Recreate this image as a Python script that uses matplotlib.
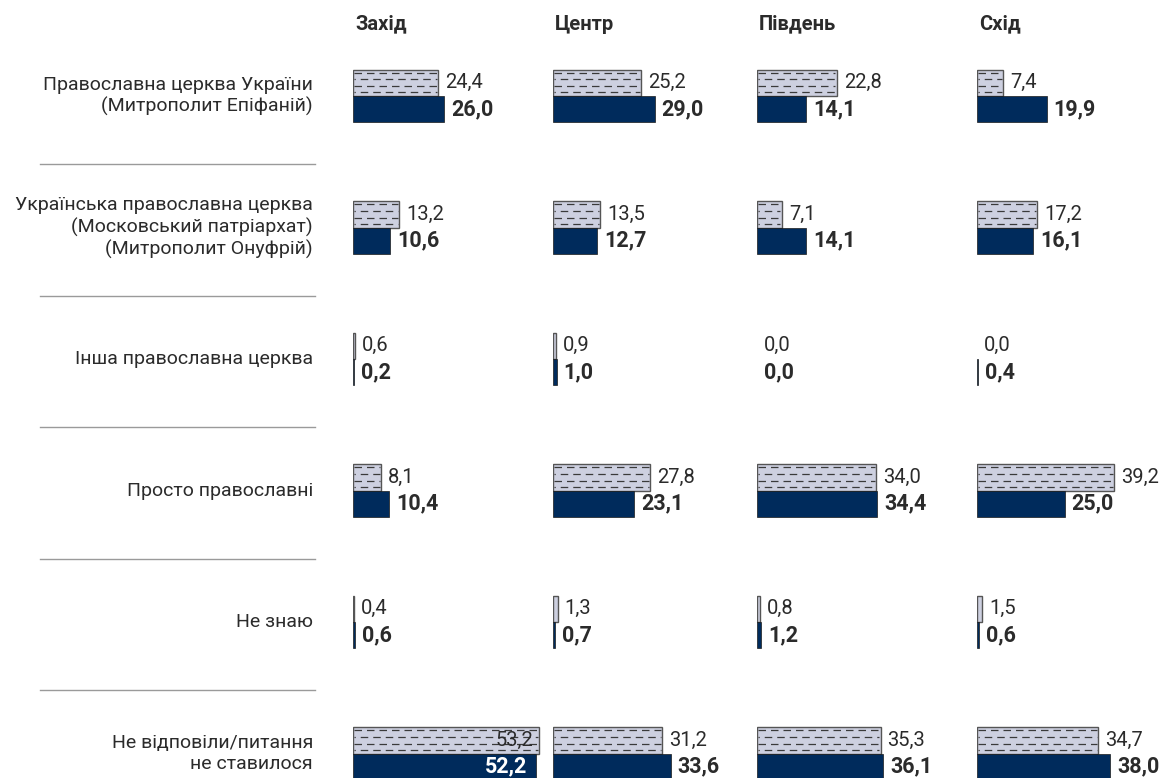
import numpy as np
import matplotlib
matplotlib.use("Agg")
from matplotlib import pyplot as plt

plt.rcParams['font.family'] = ['Roboto', 'DejaVu Sans']

# data
regions = ['Захід', 'Центр', 'Південь', 'Схід']
categories = ['Православна церква України\n(Митрополит Епіфаній)',
              'Українська православна церква\n(Московський патріархат)\n(Митрополит Онуфрій)',
              'Інша православна церква',
              'Просто православні',
              'Не знаю',
              'Не відповіли/питання\nне ставилося']
prev_vals = {
    'Захід':   [24.4, 13.2, 0.6, 8.1, 0.4, 53.2],
    'Центр':   [25.2, 13.5, 0.9, 27.8, 1.3, 31.2],
    'Південь': [22.8, 7.1, 0.0, 34.0, 0.8, 35.3],
    'Схід':    [7.4, 17.2, 0.0, 39.2, 1.5, 34.7],
}
curr_vals = {
    'Захід':   [26.0, 10.6, 0.2, 10.4, 0.6, 52.2],
    'Центр':   [29.0, 12.7, 1.0, 23.1, 0.7, 33.6],
    'Південь': [14.1, 14.1, 0.0, 34.4, 1.2, 36.1],
    'Схід':    [19.9, 16.1, 0.4, 25.0, 0.6, 38.0],
}

W, H = 1163, 778
row0, pitch = 96, 131.5          # px of first row centre, px per row
px_per_unit = 3.5
panel_left = [353, 553, 757, 977]
panel_w = 190
bar_h = 0.2

NAVY = '#002b5c'
LIGHT = '#cdd0e0'
TXT = '#2b2b2b'

fig = plt.figure(figsize=(W / 100, H / 100), dpi=100)
ylim = ((H - row0) / pitch, -row0 / pitch)

def fmt(v):
    return ('%.1f' % v).replace('.', ',')

# labels column
ax_lab = fig.add_axes([0, 0, 330 / W, 1])
ax_lab.set_ylim(*ylim)
ax_lab.set_xlim(0, 330)
ax_lab.axis('off')
y = np.arange(len(categories))
for i, cat in enumerate(categories):
    ax_lab.text(313, i, cat, ha='right', va='center', fontsize=14,
                color=TXT, linespacing=1.2)
for i in range(len(categories) - 1):
    ax_lab.plot([40, 315], [i + 0.52, i + 0.52], color='#9a9a9a', lw=1)

for reg, left in zip(regions, panel_left):
    ax = fig.add_axes([left / W, 0, panel_w / W, 1])
    ax.set_ylim(*ylim)
    ax.set_xlim(0, panel_w / px_per_unit)
    ax.axis('off')
    top = np.array(prev_vals[reg])
    bot = np.array(curr_vals[reg])
    yt = y - bar_h / 2
    yb = y + bar_h / 2
    ax.barh(yt, top, height=bar_h, color=LIGHT, edgecolor='#555555',
            lw=[1.0 if v > 0 else 0 for v in top])
    ax.barh(yb, bot, height=bar_h, color=NAVY, edgecolor='#1a1a1a',
            lw=[0.5 if v > 0 else 0 for v in bot])
    # dashed pattern inside the light bars
    for k, f in enumerate([0.12, 0.37, 0.62, 0.86]):
        off = 0 if k % 2 == 0 else 5
        for v, yc in zip(top, yt):
            if v > 1.5:
                yy = yc - bar_h / 2 + f * bar_h
                ax.plot([0.4, v - 0.4], [yy, yy], color='#3a3a3a', lw=0.9,
                        ls=(off, (6, 4)), solid_capstyle='butt')
    for v, yc in zip(top, yt):
        if v > 45:
            ax.annotate(fmt(v), (v, yc), xytext=(-4, 0), textcoords='offset points',
                        ha='right', va='center', fontsize=14.5, color=TXT)
        else:
            ax.annotate(fmt(v), (v, yc), xytext=(5, 0), textcoords='offset points',
                        ha='left', va='center', fontsize=14.5, color=TXT)
    for v, yc in zip(bot, yb):
        if v > 45:
            ax.annotate(fmt(v), (v, yc), xytext=(-6, 0), textcoords='offset points',
                        ha='right', va='center', fontsize=15.5, color='white',
                        fontweight='bold')
        else:
            ax.annotate(fmt(v), (v, yc), xytext=(5, 0), textcoords='offset points',
                        ha='left', va='center', fontsize=15.5, color=TXT,
                        fontweight='bold')
    fig.text((left + 2) / W, 1 - 24 / H, reg, ha='left', va='center',
             fontsize=14.5, fontweight='bold', color=TXT)

fig.savefig('out.png', dpi=100)
